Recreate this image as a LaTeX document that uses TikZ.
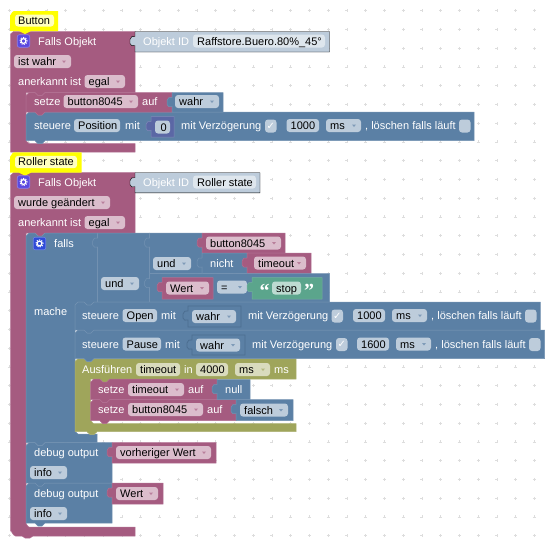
\documentclass[tikz,border=0pt]{standalone}
\usepackage{fontspec}
\setmainfont{Liberation Sans}
\newfontfamily\checkfont{DejaVu Sans}
\newfontfamily\quotefont{Liberation Serif}

\definecolor{pink}{HTML}{A55B80}
\definecolor{pinkedge}{HTML}{B26F92}
\definecolor{pinkfield}{HTML}{DBBDCC}
\definecolor{pinktip}{HTML}{B9809C}
\definecolor{blue}{HTML}{5B80A5}
\definecolor{blueedge}{HTML}{7392B2}
\definecolor{blueshade}{HTML}{4C6E91}
\definecolor{bluefield}{HTML}{BDCCDB}
\definecolor{bluetip}{HTML}{7F9BB8}
\definecolor{olive}{HTML}{9FA55B}
\definecolor{oliveedge}{HTML}{ACB172}
\definecolor{olivefield}{HTML}{D9DBBD}
\definecolor{olivetip}{HTML}{B3B87F}
\definecolor{green}{HTML}{5BA58C}
\definecolor{greenedge}{HTML}{72B19D}
\definecolor{greenfield}{HTML}{BDDBD1}
\definecolor{indigo}{HTML}{5B67A5}
\definecolor{indigoedge}{HTML}{7F88B8}
\definecolor{objblue}{HTML}{BDCCDB}
\definecolor{objfield}{HTML}{DEE6ED}
\definecolor{marker}{HTML}{FFFF00}
\definecolor{markerfield}{HTML}{FFFFBF}
\definecolor{gridmark}{HTML}{DDDDDD}
\definecolor{gearpurple}{HTML}{5B49E0}
\definecolor{gearblue}{HTML}{2F4BD8}

\tikzset{
  wordtxt/.style={text=white,anchor=base west,yshift=-4pt,inner sep=0pt,font=\fontsize{11}{13}\selectfont},
  fieldtxt/.style={text=black,anchor=base west,yshift=-4pt,inner sep=0pt,font=\fontsize{11}{13}\selectfont},
  pinkblock/.style={fill=pink,draw=pinkedge,line width=0.5pt},
  blueblock/.style={fill=blue,draw=blueedge,line width=0.5pt},
  shadeblock/.style={fill=blue,draw=blueshade,line width=0.8pt},
  oliveblock/.style={fill=olive,draw=oliveedge,line width=0.5pt},
  greenblock/.style={fill=green,draw=greenedge,line width=0.5pt},
  indigoblock/.style={fill=indigo,draw=indigoedge,line width=0.5pt},
  objblock/.style={fill=objblue},
}

% name, colour, x0, x1, y, text
\newcommand{\fieldbox}[6]{
  \fill[#2field,rounded corners=3pt] ({#3},{#5-6.5}) rectangle ({#4},{#5+6.5});
  \node[fieldtxt] (#1) at ({#3+4},{#5}) {#6};
}
\newcommand{\dropbox}[6]{
  \fieldbox{#1}{#2}{#3}{#4}{#5}{#6}
  \fill[#2tip] ({#4-9},{#5-1}) -- ({#4-5},{#5-1}) -- ({#4-7},{#5+1.5}) -- cycle;
}
% name, colour, x0, y, ticked text
\newcommand{\tickbox}[5]{
  \fill[#2field,rounded corners=3pt] ({#3},{#4-6.5}) rectangle ({#3+11.5},{#4+6.5});
  \node[text=#5,inner sep=0pt,font=\checkfont\fontsize{10}{12}\selectfont] (#1) at ({#3+5.8},{#4}) {✓};
}
\newcommand{\emptybox}[2]{
  \fill[bluefield,rounded corners=3pt] ({#1},{#2-6.5}) rectangle ({#1+11.5},{#2+6.5});
}
% style, x0, x1, y0, y1
\newcommand{\valblock}[5]{
  \filldraw[#1] ({#2},{#4}) -- ({#3},{#4}) -- ({#3},{#5}) -- ({#2},{#5}) -- ({#2},{#4+14})
    .. controls ({#2-2},{#4+14.5}) and ({#2-5},{#4+14.5}) .. ({#2-5},{#4+12}) -- ({#2-5},{#4+8})
    .. controls ({#2-5},{#4+5}) and ({#2-2},{#4+4.5}) .. ({#2},{#4+5}) -- cycle;
}
\newcommand{\stmtblock}[5]{
  \filldraw[#1] ({#2},{#4+3}) -- ({#2+3},{#4}) -- ({#2+9},{#4}) -- ({#2+12},{#4+3}) -- ({#2+16},{#4+3}) -- ({#2+19},{#4})
    -- ({#3},{#4}) -- ({#3},{#5}) -- ({#2+19},{#5}) -- ({#2+16},{#5+3}) -- ({#2+12},{#5+3}) -- ({#2+9},{#5})
    -- ({#2},{#5}) -- cycle;
}
% name, fill, x, y
\newcommand{\gearicon}[4]{
  \node[fill=#2,draw=#2!70!white,rounded corners=2pt,minimum size=12.5pt,inner sep=0pt,line width=0.6pt] (#1) at (#3,#4) {};
  \draw[white,line width=1.2pt] (#1) circle (2.4pt);
  \draw[white,line width=0.9pt,dash pattern=on 1.2pt off 1.2pt] (#1) circle (3.6pt);
}
% name, x0, x1, y0, y1, text field x1, text
\newcommand{\markerbox}[7]{
  \fill[marker] ({#2},{#5}) -- ({#2},{#4+4}) to[out=-90,in=180] ({#2+4},{#4}) -- ({#3},{#4}) -- ({#3},{#5}) -- ({#2+21},{#5}) -- ({#2+15},{#5+3}) -- ({#2+9},{#5}) -- cycle;
  \fill[markerfield,rounded corners=3pt] ({#2+5},{#4+3.5}) rectangle ({#6},{#5-4.5});
  \node[fieldtxt] (#1) at ({#2+8},{(#4+#5)/2-0.7}) {#7};
}

\begin{document}
\begin{tikzpicture}[x=1pt,y=-1pt]
  \useasboundingbox (0,0) rectangle (552,542);
  % workspace marks
  \foreach \i in {0,...,28}
    \foreach \j in {0,...,28}
      \draw[gridmark,line width=0.5pt] ({9.4+18.75*\i-1.5},{10.7+18.75*\j}) -- ++(3,0) ({9.4+18.75*\i},{10.7+18.75*\j-1.5}) -- ++(0,3);

  % first trigger
  \filldraw[pinkblock] (10.5,34) -- (13.5,31.5) -- (135,31.5) -- (135,92.5) -- (45,92.5) -- (42,95.5) -- (38,95.5) -- (35,92.5) -- (26,92.5) -- (26,141) to[out=90,in=180] (29,143.5) -- (135,143.5) -- (135,152) -- (10.5,152) -- cycle;
  \valblock{objblock}{135}{329.5}{31.5}{52}
  \gearicon{iconone}{gearpurple}{23.5}{41}
  \node[wordtxt] (fallsone) at (38,41) {Falls Objekt};
  \node[wordtxt] (idone) at (143,41) {Objekt ID};
  \fieldbox{nameone}{obj}{193}{325}{41}{Raffstore.Buero.80\%\_45°}
  \dropbox{stateone}{pink}{14}{71}{61.5}{ist wahr}
  \node[wordtxt] (ackone) at (18,81.5) {anerkannt ist};
  \dropbox{egalone}{pink}{84.5}{125}{81.5}{egal}

  \stmtblock{blueblock}{26}{474}{112}{140.7}
  \stmtblock{pinkblock}{26}{172}{92.5}{112}
  \valblock{blueblock}{172}{223}{92.5}{112}
  \node[wordtxt] (setone) at (34,101.5) {setze};
  \dropbox{varone}{pink}{63.5}{138}{101.5}{button8045}
  \node[wordtxt] (aufone) at (142,101.5) {auf};
  \dropbox{wahrone}{blue}{175}{219}{101.5}{wahr}
  \node[wordtxt] (ctlone) at (34,125.5) {steuere};
  \fieldbox{posone}{blue}{74}{120}{125.5}{Position}
  \node[wordtxt] (mitone) at (125,125.5) {mit};
  \valblock{indigoblock}{151}{174}{116.5}{137}
  \fieldbox{zeroone}{blue}{155}{170}{127}{\hspace{1.5pt}0}
  \node[wordtxt] (delayone) at (181,125.5) {mit Verzögerung};
  \tickbox{tickone}{blue}{265}{126}{white}
  \fieldbox{timeone}{blue}{286.5}{319}{125.5}{1000}
  \dropbox{unitone}{blue}{326}{361}{125.5}{ms}
  \node[wordtxt] (clearone) at (365,125.5) {, löschen falls läuft};
  \emptybox{459}{126}

  % second trigger
  \filldraw[pinkblock] (10.5,175.5) -- (13.5,172.7) -- (135,172.7) -- (135,233) -- (45,233) -- (42,236) -- (38,236) -- (35,233) -- (26,233) -- (26,524) to[out=90,in=180] (29,527) -- (135,527) -- (135,536) -- (33,536) -- (30,538) -- (25,538) -- (22,536) -- (15.5,536) to[out=180,in=90] (10.5,531) -- cycle;
  \markerbox{markone}{10}{58}{11}{31}{54}{Button}
  \markerbox{marktwo}{10}{81.7}{152.3}{172.7}{77}{Roller state}
  \valblock{objblock}{135}{260}{172.7}{192.8}
  \gearicon{icontwo}{gearpurple}{23.5}{182}
  \node[wordtxt] (fallstwo) at (38,182) {Falls Objekt};
  \node[wordtxt] (idtwo) at (143,182) {Objekt ID};
  \fieldbox{nametwo}{obj}{193}{256}{182}{Roller state}
  \dropbox{statetwo}{pink}{14}{110}{202.5}{wurde geändert}
  \node[wordtxt] (acktwo) at (18,222.5) {anerkannt ist};
  \dropbox{egaltwo}{pink}{84.5}{125}{222.5}{egal}

  % debug output below the condition
  \stmtblock{blueblock}{26}{112}{483}{523}
  \stmtblock{blueblock}{26}{112}{442.5}{483}
  \valblock{pinkblock}{112}{216}{442.5}{463}
  \valblock{pinkblock}{112}{163}{483}{504}
  \node[wordtxt] (debugone) at (34,452) {debug output};
  \dropbox{oldval}{pink}{116}{211}{452.5}{vorheriger Wert}
  \dropbox{infoone}{blue}{30}{67}{472.5}{info}
  \node[wordtxt] (debugtwo) at (34,493) {debug output};
  \dropbox{newval}{pink}{116}{158}{493.5}{Wert}
  \dropbox{infotwo}{blue}{30}{67}{513.5}{info}

  % condition
  \filldraw[blueblock] (26,236) -- (29,233) -- (35,233) -- (38,236) -- (42,236) -- (45,233) -- (97.7,233) -- (97.7,302) -- (94,302) -- (91,305) -- (87,305) -- (84,302) -- (78,302) -- (75,305) -- (75,431.5) to[out=90,in=180] (78,434) -- (97,434) -- (97,442.5) -- (45,442.5) -- (42,445.5) -- (38,445.5) -- (35,442.5) -- (26,442.5) -- cycle;
  \gearicon{iconif}{gearblue}{39.5}{243.5}
  \node[wordtxt] (iflabel) at (54,243) {falls};
  \node[wordtxt] (thenlabel) at (34,311.5) {mache};
  \valblock{blueblock}{97.7}{149.7}{233}{302}
  \dropbox{andouter}{blue}{101}{139}{283.5}{und}
  \valblock{blueblock}{149.7}{202}{233}{273.5}
  \dropbox{andinner}{blue}{153}{191}{263.5}{und}
  \valblock{pinkblock}{202}{285}{233}{253}
  \dropbox{varcond}{pink}{206}{281}{243}{button8045}
  \valblock{blueblock}{202}{247}{253}{273.5}
  \node[wordtxt] (notlabel) at (210,263) {nicht};
  \valblock{pinkblock}{247}{311}{253}{273.5}
  \dropbox{timecond}{pink}{254}{306}{263}{timeout}
  \valblock{blueblock}{149.7}{329.5}{273.5}{302}
  \valblock{pinkblock}{162}{213}{277.5}{299}
  \dropbox{wertcond}{pink}{166}{209}{288}{Wert}
  \dropbox{eqcond}{blue}{217}{247}{287}{=}
  \valblock{greenblock}{252}{322}{277.5}{299}
  \node[text=white,inner sep=0pt,font=\quotefont\bfseries\fontsize{20}{20}\selectfont] (openq) at (264.5,291) {“};
  \fieldbox{stopcond}{green}{272}{301}{288}{stop}
  \node[text=white,inner sep=0pt,font=\quotefont\bfseries\fontsize{20}{20}\selectfont] (closeq) at (309,291) {”};

  % timer
  \filldraw[oliveblock] (75,361.5) -- (78,358.5) -- (84,358.5) -- (87,361.5) -- (91,361.5) -- (94,358.5) -- (296,358.5) -- (296,379) -- (109.7,379) -- (106.7,382) -- (102.7,382) -- (99.7,379) -- (90.7,379) -- (90.7,420.5) to[out=90,in=180] (93.7,423.5) -- (296,423.5) -- (296,431.7) -- (97,431.7) -- (94,434.5) -- (90,434.5) -- (87,431.7) -- (75,431.7) -- cycle;
  \node[wordtxt] (runlabel) at (82,369.5) {Ausführen};
  \fieldbox{timename}{olive}{136}{180}{369.5}{timeout}
  \node[wordtxt] (inlabel) at (184,369.5) {in};
  \fieldbox{fourk}{olive}{196}{228}{369.5}{4000}
  \dropbox{fourkunit}{olive}{235}{270}{369.5}{ms}
  \node[wordtxt] (mslabel) at (274,369.5) {ms};
  \stmtblock{pinkblock}{90.7}{236}{399.5}{420.5}
  \stmtblock{pinkblock}{90.7}{217}{379}{399.5}
  \valblock{blueblock}{217}{250}{379.5}{399.5}
  \valblock{blueblock}{236}{293}{399.5}{420.5}
  \node[wordtxt] (settime) at (98,389.5) {setze};
  \dropbox{timevar}{pink}{128}{184}{389.5}{timeout}
  \node[wordtxt] (auftime) at (188,389.5) {auf};
  \node[wordtxt] (nullval) at (225,389.5) {null};
  \node[wordtxt] (setvar) at (98,409.5) {setze};
  \dropbox{butvar}{pink}{128}{203}{409.5}{button8045}
  \node[wordtxt] (aufvar) at (207,409.5) {auf};
  \dropbox{falseval}{blue}{240}{288}{410}{falsch}

  % actuators
  \stmtblock{blueblock}{75}{544.7}{330}{358.5}
  \stmtblock{blueblock}{75}{540.3}{302}{330}
  \node[wordtxt] (ctlopen) at (82,315.5) {steuere};
  \fieldbox{openname}{blue}{122.5}{157}{315.5}{Open}
  \node[wordtxt] (mitopen) at (161,315.5) {mit};
  \valblock{shadeblock}{188}{241}{306}{327}
  \dropbox{wahropen}{blue}{192}{236}{316.5}{wahr}
  \node[wordtxt] (delayopen) at (248,315.5) {mit Verzögerung};
  \tickbox{tickopen}{blue}{331.5}{316}{white}
  \fieldbox{timeopen}{blue}{353}{385}{315.5}{1000}
  \dropbox{unitopen}{blue}{392}{427}{315.5}{ms}
  \node[wordtxt] (clearopen) at (431,315.5) {, löschen falls läuft};
  \emptybox{525}{316}
  \node[wordtxt] (ctlpause) at (82,344) {steuere};
  \fieldbox{pausename}{blue}{122.5}{161}{344}{Pause}
  \node[wordtxt] (mitpause) at (165,344) {mit};
  \valblock{shadeblock}{192}{245}{335}{355}
  \dropbox{wahrpause}{blue}{196}{240}{345}{wahr}
  \node[wordtxt] (delaypause) at (252,344) {mit Verzögerung};
  \tickbox{tickpause}{blue}{336}{344.5}{white}
  \fieldbox{timepause}{blue}{357}{389}{344}{1600}
  \dropbox{unitpause}{blue}{396}{431}{344}{ms}
  \node[wordtxt] (clearpause) at (435,344) {, löschen falls läuft};
  \emptybox{529}{344.5}
\end{tikzpicture}
\end{document}
